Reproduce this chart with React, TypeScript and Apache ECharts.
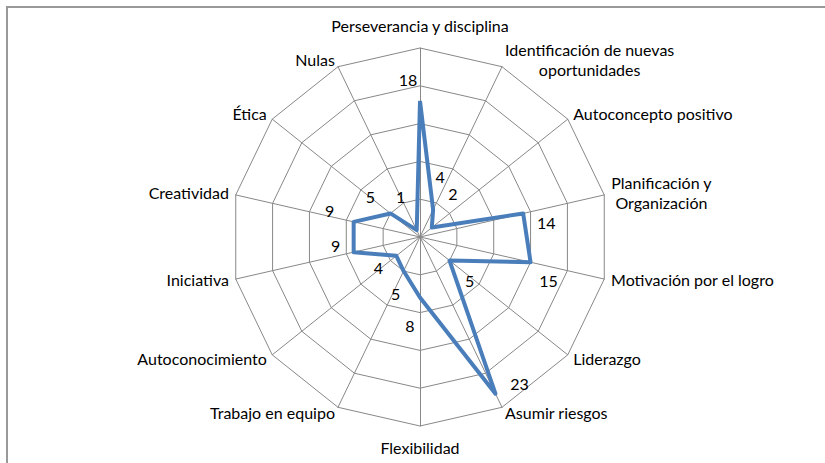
import React, { useEffect, useRef } from 'react';
import * as echarts from 'echarts';

// Categories in the reference's clockwise order, starting at the top
const indicatorNames = [
  'Perseverancia y disciplina',
  'Identificación de nuevas\noportunidades',
  'Autoconcepto positivo',
  'Planificación y\nOrganización',
  'Motivación por el logro',
  'Liderazgo',
  'Asumir riesgos',
  'Flexibilidad',
  'Trabajo en equipo',
  'Autoconocimiento',
  'Iniciativa',
  'Creatividad',
  'Ética',
  'Nulas',
];
const values = [18, 4, 2, 14, 15, 5, 23, 8, 5, 4, 9, 9, 5, 1];
const maxValue = 25;
const ringCount = 5;

// label offsets (style only) relative to each vertex, clockwise order
const labelOffsets: number[][] = [
  [-12, -21], [7, -33], [21, -34], [23, 9], [18, 18], [20, 20], [24, -10],
  [-10, 28], [-8, 22], [-18, 12], [-18, -7], [-24, -11], [-20, -17], [-16, -34],
];

const FONT = 'Lato, "Open Sans", sans-serif';

export default function App() {
  const ref = useRef<HTMLDivElement>(null);
  useEffect(() => {
    if (!ref.current) return;
    const chart = echarts.init(ref.current, null, { renderer: 'svg' });
    const n = indicatorNames.length;
    // ECharts radar runs counter-clockwise: map to clockwise order
    const order = indicatorNames.map((_, d) => (d === 0 ? 0 : n - d));
    const ccwNames = order.map((k) => indicatorNames[k]);
    const ccwValues = order.map((k) => values[k]);

    const labelSeries = order.map((k, d) => ({
      type: 'radar',
      silent: true,
      z: 3,
      symbol: 'circle',
      symbolSize: 2,
      itemStyle: { color: 'rgba(0,0,0,0)' },
      lineStyle: { width: 0, opacity: 0 },
      label: {
        show: true,
        position: 'inside',
        offset: labelOffsets[k],
        color: '#000',
        fontSize: 16,
        fontFamily: FONT,
        formatter: (p: any) => (p.dimensionIndex === d ? String(p.value) : ''),
      },
      data: [{ value: ccwValues }],
    }));
    chart.setOption({
      animation: false,
      backgroundColor: '#fff',
      graphic: [
        {
          type: 'rect',
          shape: { x: 7, y: 7, width: 840, height: 480 },
          style: { fill: 'none', stroke: '#999', lineWidth: 2 },
          silent: true,
        },
      ],
      radar: {
        center: [420, 237],
        radius: 189,
        startAngle: 90,
        shape: 'polygon',
        splitNumber: ringCount,
        indicator: ccwNames.map((name) => ({ name, min: 0, max: maxValue })),
        axisName: {
          color: '#000',
          fontSize: 16,
          fontFamily: FONT,
          padding: [6, 0, 8, 0],
          formatter: (name: string) => {
            const lines = name.split('\n');
            if (lines.length === 1) return name;
            return lines.map((l) => `{c|${l}}`).join('\n');
          },
          rich: {
            c: { align: 'center', lineHeight: 20, fontSize: 16, fontFamily: FONT, color: '#000' },
          },
        },
        nameGap: 7,
        axisLine: { lineStyle: { color: '#888', width: 1 } },
        splitLine: { lineStyle: { color: '#888', width: 1 } },
        splitArea: { show: false },
        axisTick: { show: false },
        axisLabel: { show: false },
      },
      series: [
        {
          type: 'radar',
          symbol: 'none',
          lineStyle: { color: '#4A7EBB', width: 4 },
          itemStyle: { color: '#4A7EBB' },
          data: [{ value: ccwValues }],
        },
        ...labelSeries,
      ],
    });
    return () => chart.dispose();
  }, []);
  return (
    <div
      ref={ref}
      style={{ position: 'absolute', left: 0, top: 0, width: 825, height: 463 }}
    />
  );
}
